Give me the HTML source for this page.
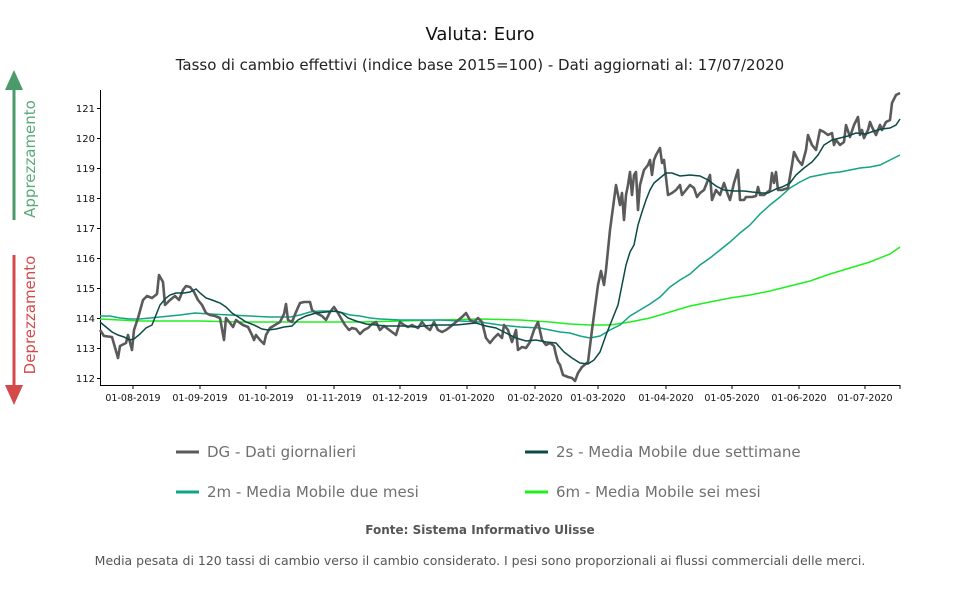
<!DOCTYPE html>
<html><head><meta charset="utf-8"><style>
body{margin:0;background:#fff;font-family:"DejaVu Sans","Liberation Sans",sans-serif;}
</style></head><body>
<svg width="960" height="600" xmlns="http://www.w3.org/2000/svg" font-family="DejaVu Sans, Liberation Sans, sans-serif">
<text x="480" y="40" font-size="18" text-anchor="middle" fill="#111">Valuta: Euro</text>
<text x="480" y="70" font-size="15" text-anchor="middle" fill="#222">Tasso di cambio effettivi (indice base 2015=100) - Dati aggiornati al: 17/07/2020</text>
<line x1="14" y1="86" x2="14" y2="220" stroke="#4a9a6a" stroke-width="3"/>
<polygon points="5,90 23,90 14,70" fill="#4a9a6a"/>
<text transform="translate(35,159) rotate(-90)" font-size="15" fill="#5aaa78" text-anchor="middle">Apprezzamento</text>
<line x1="14" y1="255" x2="14" y2="390" stroke="#d44a4a" stroke-width="3"/>
<polygon points="5,385 23,385 14,405" fill="#d44a4a"/>
<text transform="translate(35,315) rotate(-90)" font-size="15" fill="#d44a4a" text-anchor="middle">Deprezzamento</text>
<g stroke="#000" stroke-width="1">
<line x1="100.5" y1="90" x2="100.5" y2="386"/>
<line x1="100" y1="385.5" x2="900" y2="385.5"/>
<line x1="97" y1="108.5" x2="100" y2="108.5"/><line x1="97" y1="138.5" x2="100" y2="138.5"/><line x1="97" y1="168.5" x2="100" y2="168.5"/><line x1="97" y1="198.5" x2="100" y2="198.5"/><line x1="97" y1="228.5" x2="100" y2="228.5"/><line x1="97" y1="258.5" x2="100" y2="258.5"/><line x1="97" y1="288.5" x2="100" y2="288.5"/><line x1="97" y1="318.5" x2="100" y2="318.5"/><line x1="97" y1="348.5" x2="100" y2="348.5"/><line x1="97" y1="378.5" x2="100" y2="378.5"/>
<line x1="133" y1="385" x2="133" y2="389"/><line x1="200" y1="385" x2="200" y2="389"/><line x1="266" y1="385" x2="266" y2="389"/><line x1="334" y1="385" x2="334" y2="389"/><line x1="400" y1="385" x2="400" y2="389"/><line x1="467" y1="385" x2="467" y2="389"/><line x1="535" y1="385" x2="535" y2="389"/><line x1="598" y1="385" x2="598" y2="389"/><line x1="666" y1="385" x2="666" y2="389"/><line x1="732" y1="385" x2="732" y2="389"/><line x1="799" y1="385" x2="799" y2="389"/><line x1="865" y1="385" x2="865" y2="389"/><line x1="900" y1="385" x2="900" y2="389"/>
</g>
<g font-size="10" fill="#111" text-anchor="end">
<text x="95" y="112">121</text><text x="95" y="142">120</text><text x="95" y="172">119</text><text x="95" y="202">118</text><text x="95" y="232">117</text><text x="95" y="262">116</text><text x="95" y="292">115</text><text x="95" y="322">114</text><text x="95" y="352">113</text><text x="95" y="382">112</text>
</g>
<g font-size="9.5" fill="#111" text-anchor="middle">
<text x="133" y="401">01-08-2019</text><text x="200" y="401">01-09-2019</text><text x="266" y="401">01-10-2019</text><text x="334" y="401">01-11-2019</text><text x="400" y="401">01-12-2019</text><text x="467" y="401">01-01-2020</text><text x="535" y="401">01-02-2020</text><text x="598" y="401">01-03-2020</text><text x="666" y="401">01-04-2020</text><text x="732" y="401">01-05-2020</text><text x="799" y="401">01-06-2020</text><text x="865" y="401">01-07-2020</text>
</g>
<polyline fill="none" stroke="#1ef01e" stroke-width="1.5" points="100,319 120,320 140,321 160,321 200,321 240,322 280,322 320,322 360,322 400,321 440,320 480,319 520,320 550,322 570,324 590,325 610,325 630,322 650,318 670,312 690,306 710,302 730,298 750,295 770,291 790,286 810,281 830,274 850,268 870,262 890,254 900,247"/>
<polyline fill="none" stroke="#13a386" stroke-width="1.5" points="100,316 110,316 120,318 130,319 140,319 150,318 160,317 170,316 180,315 195,313 210,314 230,315 250,316 270,317 290,317 300,315 310,312 320,311 330,311 340,312 350,315 360,316 370,318 380,319 400,320 420,320 440,320 460,321 480,322 500,325 520,327 540,328 550,330 560,332 570,333 580,336 590,338 600,336 610,330 620,325 630,316 640,310 650,304 660,297 670,287 680,280 690,274 700,265 710,258 720,250 730,242 740,233 750,225 760,214 770,205 780,197 790,188 800,182 810,177 820,175 830,173 840,172 850,170 860,168 870,167 880,165 890,160 900,155"/>
<polyline fill="none" stroke="#5a5a5a" stroke-width="2.6" stroke-linejoin="round" points="100,330 104,336 112,337 118,358 120,346 126,343 128,335 132,350 134,330 138,318 143,300 147,296 152,298 157,294 159,275 163,282 165,305 170,300 175,296 179,300 183,290 186,286 190,287 194,292 198,300 202,305 206,313 210,315 215,316 220,318 224,340 226,318 230,323 233,327 236,320 240,323 243,325 248,327 252,335 254,340 256,335 260,340 264,344 266,335 270,328 275,325 280,322 284,314 286,304 288,320 292,322 296,312 300,303 304,302 310,302 312,310 316,313 322,316 326,320 330,312 334,307 338,313 342,320 345,325 349,330 352,328 356,329 360,334 364,330 368,328 372,324 376,322 380,330 384,326 388,329 392,332 396,335 400,322 404,325 408,327 412,325 418,328 422,322 426,327 430,330 434,322 438,330 442,332 446,330 450,327 456,322 462,317 466,313 470,320 474,322 478,318 482,322 486,338 490,343 494,338 498,334 502,338 504,325 508,330 512,342 516,330 518,350 522,347 526,348 530,342 534,330 538,322 542,340 546,345 550,343 554,346 556,355 558,362 560,365 563,375 568,377 572,378 575,381 578,373 582,367 588,362 592,330 596,300 598,285 601,271 604,285 606,270 610,230 614,200 616,185 618,195 620,205 622,193 624,220 626,195 628,185 630,172 632,195 634,175 636,172 638,210 640,185 644,170 648,165 650,160 652,175 654,160 656,155 660,148 662,163 664,160 668,195 672,193 676,190 680,185 682,195 686,190 690,185 694,188 697,197 700,193 704,190 706,185 710,175 712,200 716,190 720,195 724,183 728,195 730,200 734,183 738,170 740,200 744,200 746,197 752,197 756,196 758,187 760,195 764,195 770,190 772,173 774,183 776,172 778,190 782,190 788,188 792,165 794,152 798,160 802,165 806,150 808,135 812,145 816,150 820,130 824,132 828,135 832,133 834,145 836,140 840,145 844,142 846,125 850,137 854,125 858,117 860,135 862,130 864,138 868,130 870,122 872,127 876,135 880,125 882,130 886,122 890,120 892,103 896,95 900,93"/>
<polyline fill="none" stroke="#0b4a45" stroke-width="1.5" points="100,322 106,327 112,332 118,335 124,337 130,340 134,339 140,334 146,328 152,325 156,315 160,305 166,298 170,295 176,293 184,293 190,292 196,289 200,293 206,298 212,300 220,303 226,307 232,313 240,318 246,322 254,325 262,329 268,330 276,329 284,327 292,326 298,320 306,316 316,313 326,312 336,311 342,313 348,318 356,321 366,324 376,325 386,326 396,326 406,326 414,327 424,326 434,325 444,325 456,325 466,324 476,323 486,326 496,328 506,333 516,338 526,341 536,340 546,342 556,343 564,352 572,358 580,363 588,364 594,360 600,352 606,335 612,320 618,305 622,285 626,265 630,252 634,245 638,225 642,212 646,200 650,190 654,183 660,178 666,173 672,173 680,176 690,175 700,176 708,180 716,186 724,190 734,191 744,191 752,192 762,193 768,193 776,189 782,187 790,183 796,175 804,168 812,162 818,155 824,145 832,140 840,138 848,136 856,133 866,134 874,131 882,129 890,128 896,125 900,119"/>
<line x1="176" y1="452" x2="199" y2="452" stroke="#5a5a5a" stroke-width="3"/>
<text x="207" y="457" font-size="15" fill="#707070">DG - Dati giornalieri</text>
<line x1="525" y1="452" x2="548" y2="452" stroke="#0b4a45" stroke-width="3"/>
<text x="556" y="457" font-size="15" fill="#707070">2s - Media Mobile due settimane</text>
<line x1="176" y1="492" x2="199" y2="492" stroke="#13a386" stroke-width="3"/>
<text x="207" y="497" font-size="15" fill="#707070">2m - Media Mobile due mesi</text>
<line x1="525" y1="492" x2="548" y2="492" stroke="#1ef01e" stroke-width="3"/>
<text x="556" y="497" font-size="15" fill="#707070">6m - Media Mobile sei mesi</text>
<text x="480" y="534" font-size="12" font-weight="bold" fill="#555" text-anchor="middle">Fonte: Sistema Informativo Ulisse</text>
<text x="480" y="565" font-size="12.5" fill="#555" text-anchor="middle">Media pesata di 120 tassi di cambio verso il cambio considerato. I pesi sono proporzionali ai flussi commerciali delle merci.</text>
</svg>
</body></html>
